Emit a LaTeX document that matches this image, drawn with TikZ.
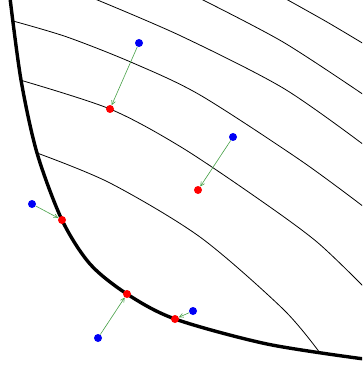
\documentclass[tikz,border=0pt]{standalone}
\usetikzlibrary{arrows.meta}
\definecolor{ptblue}{RGB}{0,0,245}
\definecolor{ptred}{RGB}{255,0,0}
\definecolor{arrgreen}{RGB}{70,160,70}
\begin{document}
\begin{tikzpicture}[x=1pt,y=-1pt,
  level/.style={line width=0.8pt, black},
  frontier/.style={line width=3.4pt, black},
  src/.style={circle, fill=ptblue, inner sep=0pt, minimum size=8pt},
  dst/.style={circle, fill=ptred, inner sep=0pt, minimum size=8pt},
  move/.style={arrgreen, line width=0.6pt, -{Straight Barb[length=4pt,width=4pt]}}]
\useasboundingbox (0,0) rectangle (362,366);
\begin{scope}
\clip (0,0) rectangle (362,366);
\draw[level] plot[smooth] coordinates {(286,-1) (327,22) (364,44)};
\draw[level] plot[smooth] coordinates {(201,-1) (283,42) (364,95)};
\draw[level] plot[smooth] coordinates {(95,-1) (181,36) (283,88) (364,145)};
\draw[level] plot[smooth] coordinates {(13,21) (67,37) (133,63) (200,95) (300,160) (364,207)};
\draw[level] plot[smooth] coordinates {(20,80) (110,109) (181,147) (260,200) (317,242) (364,287)};
\draw[level] plot[smooth] coordinates {(37,153) (110,183) (200,237) (283,309) (320,353)};
\draw[frontier] plot[smooth] coordinates {(10,-2) (21,80) (37,153) (62,220) (90,264) (127,294) (175,319) (267,344) (364,359)};
\end{scope}
\node[src] (b1) at (139,43) {};
\node[dst] (r1) at (110,109) {};
\node[src] (b2) at (233,137) {};
\node[dst] (r2) at (198,190) {};
\node[src] (b3) at (32,204) {};
\node[dst] (r3) at (62,220) {};
\node[src] (b4) at (98,338) {};
\node[dst] (r4) at (127,294) {};
\node[src] (b5) at (193,311) {};
\node[dst] (r5) at (175,319) {};
\draw[move] (b1) -- (r1);
\draw[move] (b2) -- (r2);
\draw[move] (b3) -- (r3);
\draw[move] (b4) -- (r4);
\draw[move] (b5) -- (r5);
\end{tikzpicture}
\end{document}
